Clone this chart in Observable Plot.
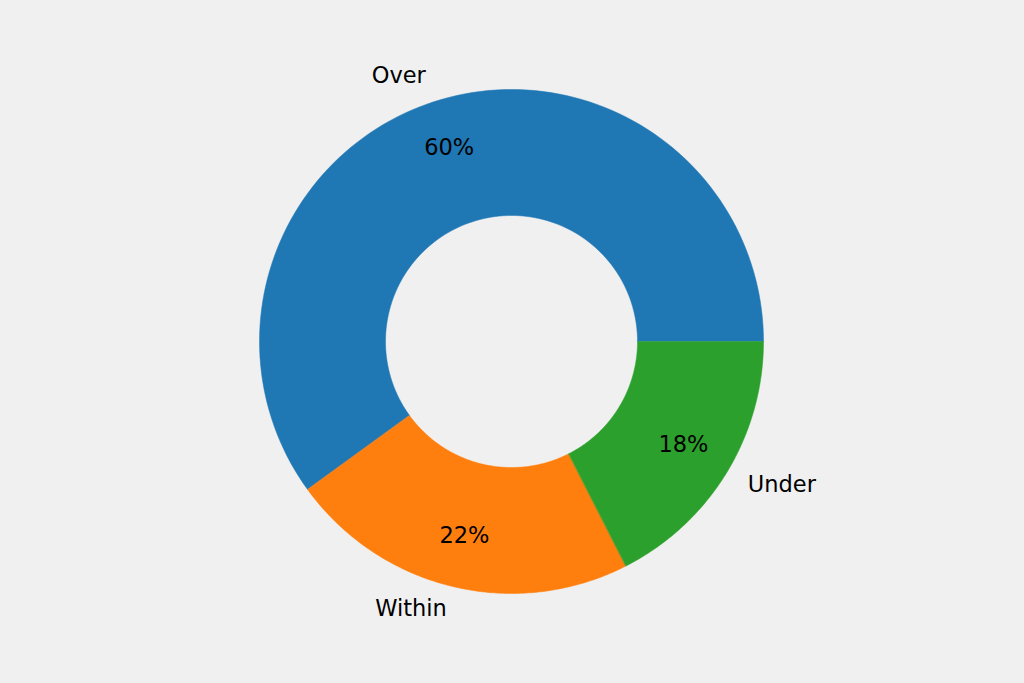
<!DOCTYPE html>
<html>
<head>
<meta charset="utf-8">
<script src="https://cdn.jsdelivr.net/npm/d3@7"></script>
<script src="https://cdn.jsdelivr.net/npm/@observablehq/plot@0.6"></script>
<style>
  html, body { margin: 0; padding: 0; background: #f0f0f0; }
  #chart { width: 1024px; height: 683px; }
</style>
</head>
<body>
<div id="chart"></div>
<script>
const categories = ["Over", "Within", "Under"];
const values = [24, 9, 7];
const colors = ["#1f77b4", "#ff7f0e", "#2ca02c"];

const W = 1024, H = 683;
const cx = 511, cy = 341, R = 252;
const inner = 0.5, labelDist = 1.1, pctDist = 0.8;

// round half to even, like Python's "%1.0f"
function roundHalfEven(v) {
  const f = Math.floor(v), d = v - f;
  if (Math.abs(d - 0.5) < 1e-9) return f % 2 === 0 ? f : f + 1;
  return Math.round(v);
}

const total = d3.sum(values);
let acc = 0;
const slices = categories.map((c, i) => {
  const a0 = acc / total * 2 * Math.PI;
  acc += values[i];
  const a1 = acc / total * 2 * Math.PI;
  return {cat: c, value: values[i], a0, a1, mid: (a0 + a1) / 2};
});

// ring polygon outline for each slice (geometry sampling of arcs)
const poly = [];
for (const s of slices) {
  const n = 120;
  for (let k = 0; k <= n; k++) {
    const a = s.a0 + (s.a1 - s.a0) * k / n;
    poly.push({cat: s.cat, x: Math.cos(a), y: Math.sin(a)});
  }
  for (let k = n; k >= 0; k--) {
    const a = s.a0 + (s.a1 - s.a0) * k / n;
    poly.push({cat: s.cat, x: inner * Math.cos(a), y: inner * Math.sin(a)});
  }
}

const labels = slices.map(s => ({
  cat: s.cat,
  x: labelDist * Math.cos(s.mid),
  y: labelDist * Math.sin(s.mid),
  left: Math.cos(s.mid) < 0
}));
const pcts = slices.map(s => ({
  text: roundHalfEven(s.value / total * 100) + "%",
  x: pctDist * Math.cos(s.mid),
  y: pctDist * Math.sin(s.mid)
}));

const font = "'DejaVu Sans', sans-serif";
const fs = 22.5;
const chart = Plot.plot({
  width: W,
  height: H,
  margin: 0,
  style: {background: "#f0f0f0", fontFamily: font},
  x: {domain: [-cx / R, (W - cx) / R], range: [0, W], axis: null},
  y: {domain: [-(H - cy) / R, cy / R], range: [H, 0], axis: null},
  color: {domain: categories, range: colors},
  marks: [
    Plot.line(poly, {x: "x", y: "y", z: "cat", fill: "cat", stroke: "cat", strokeWidth: 0.5, curve: "linear-closed"}),
    Plot.text(labels.filter(d => d.left), {x: "x", y: "y", text: "cat", textAnchor: "end", fontSize: fs, dy: -2, fill: "black"}),
    Plot.text(labels.filter(d => !d.left), {x: "x", y: "y", text: "cat", textAnchor: "start", fontSize: fs, dy: -2, fill: "black"}),
    Plot.text(pcts, {x: "x", y: "y", text: "text", fontSize: fs, dy: -2, fill: "black"})
  ]
});
document.getElementById("chart").appendChild(chart);
</script>
</body>
</html>
